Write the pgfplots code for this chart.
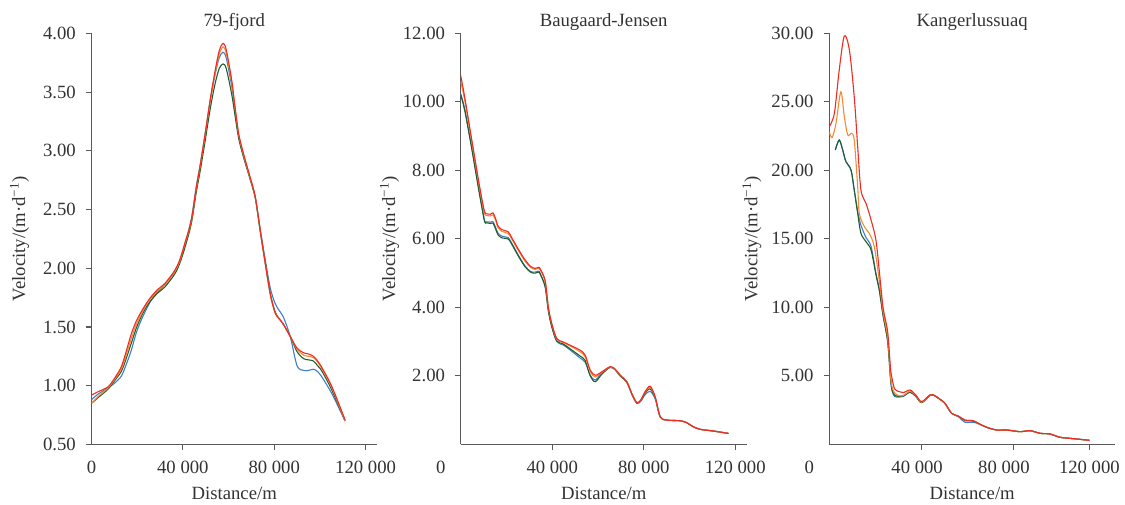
\documentclass[border=0pt]{standalone}
\usepackage{fontspec}
\setmainfont{Liberation Serif}
\usepackage{pgfplots}
\usepackage{pgfplotstable}
\pgfplotsset{compat=1.18}
\definecolor{cblue}{HTML}{3E7DC8}
\definecolor{cgreen}{HTML}{1F5E2E}
\definecolor{corange}{HTML}{F58A32}
\definecolor{cred}{HTML}{EE2B24}
\definecolor{axgray}{HTML}{595959}
\definecolor{txt}{HTML}{333333}

\pgfplotstableread{
x b g o r
0 0.88 0.85 0.85 0.92
3000 0.93 0.90 0.91 0.95
7200 0.98 0.97 0.98 0.99
10000 1.02 1.04 1.05 1.06
13000 1.08 1.12 1.14 1.16
15000 1.17 1.22 1.25 1.28
17400 1.30 1.36 1.40 1.44
19600 1.45 1.49 1.52 1.55
21800 1.56 1.59 1.61 1.63
24000 1.65 1.67 1.69 1.70
26200 1.73 1.73 1.75 1.76
29000 1.80 1.79 1.81 1.82
32100 1.86 1.84 1.86 1.87
36400 1.97 1.95 1.97 1.98
38600 2.06 2.04 2.06 2.07
40800 2.19 2.17 2.20 2.21
43700 2.42 2.38 2.40 2.41
45900 2.70 2.65 2.68 2.69
47600 2.88 2.83 2.87 2.88
49800 3.15 3.09 3.14 3.15
52000 3.43 3.36 3.43 3.44
54100 3.65 3.57 3.66 3.68
55900 3.79 3.70 3.82 3.85
57600 3.84 3.74 3.885 3.915
59000 3.79 3.70 3.83 3.86
61400 3.55 3.48 3.58 3.60
63000 3.32 3.28 3.34 3.35
64500 3.12 3.10 3.13 3.14
66500 2.96 2.95 2.97 2.98
69400 2.77 2.76 2.77 2.78
71700 2.60 2.60 2.61 2.61
73900 2.33 2.31 2.32 2.32
76100 2.07 2.04 2.04 2.04
78300 1.83 1.78 1.77 1.78
80400 1.70 1.63 1.62 1.62
82200 1.64 1.57 1.57 1.57
84100 1.58 1.52 1.52 1.52
87000 1.42 1.42 1.42 1.42
90000 1.17 1.29 1.31 1.32
92900 1.13 1.23 1.26 1.28
95000 1.13 1.22 1.25 1.27
97200 1.14 1.21 1.24 1.25
99000 1.12 1.17 1.20 1.21
101000 1.07 1.12 1.14 1.15
105300 0.93 0.96 0.98 0.99
111000 0.70 0.70 0.70 0.71
}\fjord

\pgfplotstableread{
x b g o r
0 10.24 10.20 10.60 10.77
1750 9.80 9.75 10.05 10.14
4640 8.75 8.70 8.92 8.97
7570 7.60 7.55 7.75 7.80
9300 6.95 6.90 7.10 7.15
10500 6.52 6.49 6.72 6.78
11500 6.50 6.47 6.68 6.73
13000 6.49 6.45 6.67 6.72
14100 6.50 6.46 6.70 6.76
15200 6.35 6.30 6.55 6.60
16300 6.17 6.12 6.33 6.38
18000 6.08 6.03 6.22 6.27
20700 6.04 6.00 6.16 6.21
22100 5.90 5.87 6.02 6.06
25000 5.55 5.52 5.68 5.72
28000 5.22 5.20 5.36 5.40
30500 5.05 5.03 5.17 5.20
32500 5.03 5.00 5.11 5.14
34000 5.06 5.03 5.14 5.17
34700 5.00 4.98 5.10 5.13
36900 4.62 4.60 4.76 4.79
38300 3.92 3.90 4.00 4.01
39800 3.45 3.43 3.52 3.53
42000 3.00 3.02 3.07 3.09
44900 2.90 2.93 2.97 2.99
49300 2.68 2.72 2.82 2.85
52200 2.52 2.58 2.70 2.75
54400 2.40 2.45 2.56 2.61
56600 2.02 2.00 2.12 2.17
58800 1.88 1.83 1.97 2.02
61700 2.08 2.05 2.10 2.12
65300 2.25 2.25 2.26 2.27
67500 2.18 2.18 2.19 2.20
69700 2.00 2.00 2.02 2.02
72600 1.81 1.82 1.83 1.83
75000 1.43 1.44 1.45 1.45
77000 1.20 1.21 1.22 1.22
78700 1.26 1.28 1.29 1.30
80600 1.45 1.50 1.53 1.54
82800 1.55 1.62 1.67 1.70
85000 1.33 1.36 1.38 1.39
87200 0.80 0.80 0.81 0.81
90100 0.71 0.71 0.71 0.71
96000 0.69 0.69 0.69 0.69
98900 0.63 0.63 0.63 0.63
101500 0.52 0.52 0.52 0.52
104700 0.44 0.44 0.44 0.44
110500 0.39 0.39 0.39 0.39
117100 0.32 0.32 0.32 0.32
}\baug

\pgfplotstableread{
x y
0 23.19
2200 24.17
4300 27.33
6500 29.81
8700 28.79
10800 25.38
12300 21.73
13700 18.57
15900 17.60
18100 16.38
20200 14.92
21700 12.60
23300 10.00
25300 8.20
26500 5.60
27200 4.80
28300 4.05
30300 3.85
32100 3.78
35000 3.97
37500 3.60
40000 3.12
43600 3.61
45500 3.58
48000 3.29
50100 3.00
53000 2.27
55900 2.07
58800 1.78
62400 1.73
65000 1.50
68200 1.25
72500 1.05
76900 1.05
82600 0.93
87000 1.00
91300 0.81
95600 0.76
100000 0.52
105700 0.42
112700 0.30
}\kangR

\pgfplotstableread{
x y
0 22.80
1200 22.40
2900 23.43
5000 25.74
6500 23.92
8000 22.58
9600 22.71
10800 22.22
12300 18.81
13000 16.87
15200 15.89
17300 15.41
19500 14.43
21700 11.90
23300 9.70
25300 7.80
26500 5.10
27200 4.20
28300 3.75
30300 3.55
32100 3.58
35000 3.88
37500 3.55
40000 3.08
43600 3.60
45500 3.58
48000 3.29
50100 3.00
53000 2.27
55900 2.07
58800 1.78
62400 1.73
65000 1.50
68200 1.25
72500 1.05
76900 1.05
82600 0.93
87000 1.00
91300 0.81
95600 0.76
100000 0.52
105700 0.42
112700 0.30
}\kangO

\pgfplotstableread{
x y
2600 21.49
4300 22.22
5800 21.49
7200 20.64
9400 20.03
10800 18.57
12300 16.87
13700 15.41
15900 14.80
18100 14.19
20200 12.40
21700 11.20
23300 9.40
25300 7.50
26500 4.90
27200 4.00
28300 3.60
30300 3.50
32100 3.55
35000 3.82
37500 3.50
40000 3.05
43600 3.58
45500 3.57
48000 3.29
50100 3.00
53000 2.27
55900 2.06
58800 1.74
62400 1.70
65000 1.49
68200 1.25
72500 1.05
76900 1.05
82600 0.93
87000 1.00
91300 0.81
95600 0.76
100000 0.52
105700 0.42
112700 0.30
}\kangG

\pgfplotstableread{
x y
2600 21.49
4300 22.22
5800 21.49
7200 20.64
9400 20.03
10800 18.57
12300 17.00
13700 16.00
15900 15.10
18100 14.45
20200 12.50
21700 11.30
23300 9.45
25300 7.50
26500 4.80
27200 3.90
28300 3.50
30300 3.45
32100 3.50
35000 3.80
37500 3.50
40000 3.05
43600 3.58
45500 3.56
48000 3.28
50100 3.00
53000 2.27
55900 2.02
58800 1.62
62400 1.62
65000 1.48
68200 1.25
72500 1.05
76900 1.06
82600 0.93
87000 1.01
91300 0.81
95600 0.76
100000 0.52
105700 0.42
112700 0.30
}\kangB

\pgfplotsset{
  myax/.style={
    scale only axis, height=411pt,
    axis x line*=bottom, axis y line*=left,
    axis line style={axgray, line width=1.1pt},
    every tick/.style={axgray, line width=1.1pt},
    tick align=outside, major tick length=5.5pt,
    xmin=0,
    scaled x ticks=false, scaled y ticks=false,
    /pgf/number format/assume math mode=true,
    yticklabel style={text=txt, xshift=-3.8pt,
      /pgf/number format/fixed, /pgf/number format/fixed zerofill,
      /pgf/number format/precision=2},
    xticklabel style={text=txt, anchor=base, yshift=-23.5pt},
    every axis title/.style={at={(0.5,1)}, anchor=base, yshift=7.3pt, text=txt},
    every axis x label/.style={at={(axis description cs:0.5,0)}, anchor=base, yshift=-54.6pt, text=txt},
    xlabel={Distance/m},
    ylabel={Velocity/(m·d\textsuperscript{−1})},
    every axis plot/.append style={line width=1.1pt, smooth, no markers},
  },
}

\begin{document}
\fontsize{18.7}{22}\selectfont
\begin{tikzpicture}
\begin{axis}[myax, at={(91.5pt,-444.4pt)}, anchor=south west,
  width=285.5pt, xmax=125000, ymin=0.5, ymax=4,
  ytick={0.5,1.0,1.5,2.0,2.5,3.0,3.5,4.0},
  xtick={40000,80000,120000}, xticklabels={40 000,80 000,120 000},
  extra x ticks={0}, extra x tick labels={0},
  extra x tick style={tick style={draw=none}},
  title={79-fjord},
  every axis y label/.style={at={(axis description cs:-0.2329,0.5)}, rotate=90, anchor=base, text=txt}]
\addplot[cblue] table[x=x,y=b] {\fjord};
\addplot[cgreen] table[x=x,y=g] {\fjord};
\addplot[corange] table[x=x,y=o] {\fjord};
\addplot[cred] table[x=x,y=r] {\fjord};
\end{axis}

\begin{axis}[myax, at={(460.7pt,-444.4pt)}, anchor=south west,
  width=286pt, xmax=125000, ymin=0, ymax=12,
  ytick={2,4,6,8,10,12},
  xtick={40000,80000,120000}, xticklabels={40 000,80 000,120 000},
  extra x ticks={0}, extra x tick labels={\makebox[0pt]{\kern-40pt 0}},
  extra x tick style={tick style={draw=none}},
  title={Baugaard-Jensen},
  every axis y label/.style={at={(axis description cs:-0.2297,0.5)}, rotate=90, anchor=base, text=txt}]
\addplot[cblue] table[x=x,y=b] {\baug};
\addplot[cgreen] table[x=x,y=g] {\baug};
\addplot[corange] table[x=x,y=o] {\baug};
\addplot[cred] table[x=x,y=r] {\baug};
\end{axis}

\begin{axis}[myax, at={(829.3pt,-444.4pt)}, anchor=south west,
  width=285.7pt, xmax=123800, ymin=0, ymax=30,
  ytick={5,10,15,20,25,30},
  xtick={40000,80000,112700},
  xticklabels={\makebox[0pt]{\kern-9pt 40 000},\makebox[0pt]{\kern-20pt 80 000},120 000},
  extra x ticks={0}, extra x tick labels={\makebox[0pt]{\kern-40pt 0}},
  extra x tick style={tick style={draw=none}},
  title={Kangerlussuaq},
  every axis y label/.style={at={(axis description cs:-0.252,0.5)}, rotate=90, anchor=base, text=txt}]
\addplot[cblue] table[x=x,y=y] {\kangB};
\addplot[cgreen] table[x=x,y=y] {\kangG};
\addplot[corange] table[x=x,y=y] {\kangO};
\addplot[cred] table[x=x,y=y] {\kangR};
\end{axis}
\pgfresetboundingbox
\useasboundingbox (0pt,-504pt) rectangle (1125pt,0pt);
\end{tikzpicture}
\end{document}
